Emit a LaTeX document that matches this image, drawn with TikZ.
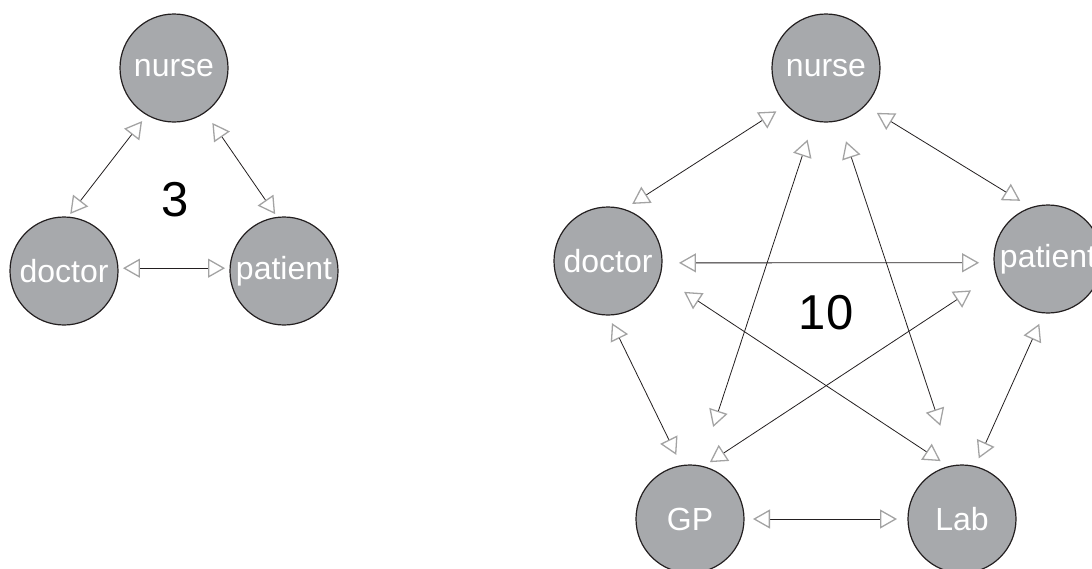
\documentclass[tikz,border=0pt]{standalone}
\usepackage{fontspec}
\setmainfont{Liberation Sans}
\usetikzlibrary{arrows.meta}
\definecolor{cfill}{HTML}{A7A9AC}
\definecolor{cedge}{HTML}{231F20}
\definecolor{ctip}{HTML}{A3A3A3}
\definecolor{cline}{HTML}{231F20}

\begin{document}
\begin{tikzpicture}[x=1pt, y=-1pt]

\tikzstyle{role} = [circle, draw=cedge, fill=cfill, line width=1.2pt, minimum size=108pt, inner sep=0pt, outer sep=0pt, text=white, font=\fontsize{32}{32}\selectfont]
\tikzstyle{link} = [<->, >={Triangle[open, length=17pt, width=19pt, line width=1.3pt, color=ctip]}, draw=cline, line width=0.8pt]
\tikzstyle{count} = [text=black, font=\fontsize{49}{49}\selectfont]

\useasboundingbox (0,0) rectangle (1092,568);

% Three roles
\node[role] (nurseA) at (174,68) {nurse};
\node[role] (doctorA) at (64,271) {doctor};
\node[role] (patientA) at (284,271) {patient};
\node[count] (countA) at (175,200) {3};

\draw[link, shorten <=4pt, shorten >=8pt] (doctorA.86) -- (nurseA.240);
\draw[link, shorten <=13pt, shorten >=4pt] (nurseA.305) -- (patientA.97);
\draw[link, shorten <=5pt, shorten >=5pt] (doctorA.3) -- (patientA.177);

% Five roles
\node[role] (nurseB) at (826,68) {nurse};
\node[role] (doctorB) at (608,261) {doctor};
\node[role] (patientB) at (1048,259) {patient};
\node[role] (gpB) at (690,519) {GP};
\node[role] (labB) at (962,519) {Lab};
\node[count] (countB) at (826,313) {10};

% outer ring
\draw[link, shorten <=10pt, shorten >=12pt] (doctorB.73) -- (nurseB.223);
\draw[link, shorten <=14pt, shorten >=13pt] (nurseB.316) -- (patientB.108);
\draw[link, shorten <=9pt, shorten >=12pt] (doctorB.270) -- (gpB.99);
\draw[link, shorten <=12pt, shorten >=9pt] (patientB.266) -- (labB.76);
\draw[link, shorten <=9pt, shorten >=11pt] (gpB.0) -- (labB.180);

% star
\draw[link, shorten <=17pt, shorten >=15pt] (doctorB.-2) -- (patientB.184);
\draw[link, shorten <=20pt, shorten >=41pt] (nurseB.257) -- (gpB.79);
\draw[link, shorten <=22pt, shorten >=42pt] (nurseB.284) -- (labB.99);
\draw[link, shorten <=29pt, shorten >=10pt] (doctorB.-16) -- (labB.104);
\draw[link, shorten <=30pt, shorten >=8pt] (patientB.196) -- (gpB.76);

\end{tikzpicture}
\end{document}
